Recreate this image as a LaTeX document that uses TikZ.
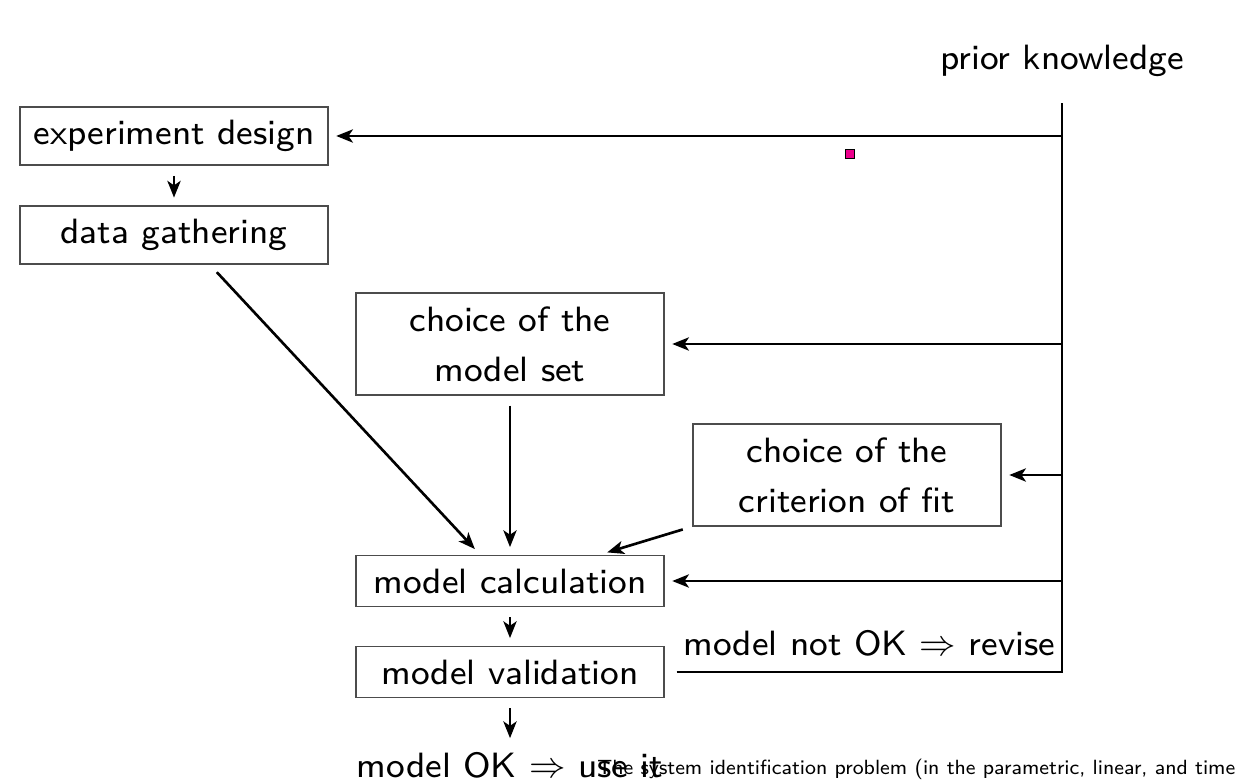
\documentclass[tikz,border=0pt]{standalone}
\usepackage{amsmath}
\usepackage{fontspec}
\newfontfamily\diagfont{lmsans8-regular.otf}
\usepackage{tikz}
\usetikzlibrary{arrows.meta, positioning}

\begin{document}
\begin{tikzpicture}[
    font=\diagfont\fontsize{20}{28.4}\selectfont,
    stepbox/.style={draw=black!70, line width=0.8pt, minimum width=6.16cm,
      inner ysep=7.6pt, align=center},
    flow/.style={-{Stealth[length=9.5pt, width=7.5pt, inset=2.5pt]}, line width=1.5pt,
      shorten <=0.2cm, shorten >=0.15cm},
  ]

  \useasboundingbox (0,0) rectangle (24.72,15.64);

  % --- left column ---
  \node[stepbox] (b1) at (3.48,12.92) {experiment design};
  \node[stepbox] (b2) at (3.48,10.94) {data gathering};

  % --- choices ---
  \node[stepbox] (b3) at (10.2,8.76) {choice of the\\model set};
  \node[stepbox] (b4) at (16.94,6.14) {choice of the\\criterion of fit};

  % --- model boxes ---
  \node[stepbox] (b5) at (10.2,4.02) {model calculation};
  \node[stepbox] (b6) at (10.2,2.2) {model validation};
  \node[anchor=base] (useit) at (10.2,0.1) {model OK $\Rightarrow$ use it};

  % --- prior knowledge rail ---
  \node (prior) at (21.24,14.42) {prior knowledge};
  \coordinate (top) at (21.24,13.58);
  \node[draw=black, fill=magenta, line width=0.4pt, minimum size=0.19cm, inner sep=0pt] (pin) at (17.0,12.56) {};

  % --- footer ---
  \node[anchor=base west, inner sep=0pt, font=\diagfont\fontsize{11.7}{14}\selectfont] (foot) at (11.94,0.16)
    {The system identification problem (in the parametric, linear, and time};

  % --- connectors ---
  \draw[flow] (b1) -- (b2);
  \draw[flow] ([xshift=0.72cm]b2.south) -- ([xshift=-0.6cm]b5.north);
  \draw[flow] (b3) -- (b5);
  \draw[flow] (b4.south west) -- ([xshift=1.8cm]b5.north);
  \draw[flow] (b5) -- (b6);
  \draw[flow] (b6) -- (useit);

  \foreach \b in {b1,b3,b4,b5}
    \draw[flow, shorten <=0pt] (top |- \b.east) -- (\b.east);

  \draw[line width=1.5pt] ([xshift=0.24cm]b6.east) -| node[pos=0.25, above, inner sep=8pt]
    {model not OK $\Rightarrow$ revise} (top);

\end{tikzpicture}
\end{document}
